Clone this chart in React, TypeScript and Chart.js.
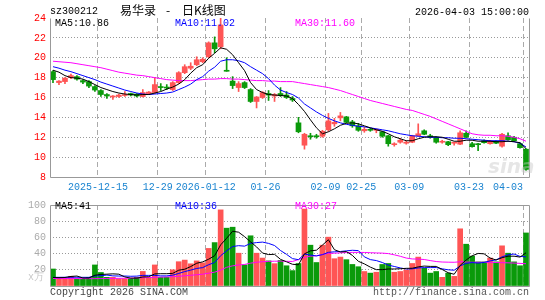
import React, { useEffect, useRef } from 'react';
import { Chart, registerables } from 'chart.js';

Chart.register(...registerables);

// ---------- data ----------
const dates = [
  '2025-12-03','2025-12-04','2025-12-05','2025-12-08','2025-12-09','2025-12-10','2025-12-11','2025-12-12',
  '2025-12-15','2025-12-16','2025-12-17','2025-12-18','2025-12-19','2025-12-22','2025-12-23','2025-12-24',
  '2025-12-25','2025-12-26','2025-12-29','2025-12-30','2025-12-31','2026-01-05','2026-01-06','2026-01-07',
  '2026-01-08','2026-01-09','2026-01-12','2026-01-13','2026-01-14','2026-01-15','2026-01-16','2026-01-19',
  '2026-01-20','2026-01-21','2026-01-22','2026-01-23','2026-01-26','2026-01-27','2026-01-28','2026-01-29',
  '2026-01-30','2026-02-02','2026-02-03','2026-02-04','2026-02-05','2026-02-06','2026-02-09','2026-02-10',
  '2026-02-11','2026-02-12','2026-02-13','2026-02-24','2026-02-25','2026-02-26','2026-02-27','2026-03-02',
  '2026-03-03','2026-03-04','2026-03-05','2026-03-06','2026-03-09','2026-03-10','2026-03-11','2026-03-12',
  '2026-03-13','2026-03-16','2026-03-17','2026-03-18','2026-03-19','2026-03-20','2026-03-23','2026-03-24',
  '2026-03-25','2026-03-26','2026-03-27','2026-03-30','2026-03-31','2026-04-01','2026-04-02','2026-04-03',
];

const opens = [
  18.6,17.5,17.6,18.0,18.1,17.7,17.6,17.1,16.7,16.3,16.05,16.1,16.2,16.4,16.35,16.1,16.4,16.5,17.1,17.05,
  16.8,17.5,18.5,18.95,19.3,19.6,20.1,21.5,21.1,18.7,17.65,17.0,17.5,16.8,15.6,16.0,16.4,16.15,16.4,16.25,
  15.9,13.45,11.2,12.15,12.15,12.1,12.75,13.35,13.95,14.05,13.55,13.15,12.65,12.8,12.7,12.55,12.15,11.25,11.5,11.4,
  11.5,12.15,12.65,12.15,12.0,11.5,11.55,11.4,11.3,12.4,11.35,11.35,11.65,11.35,11.6,11.1,12.15,12.0,11.35,10.8,
];
const closes = [
  17.8,17.65,17.95,18.2,17.85,17.55,17.15,16.75,16.3,16.15,16.15,16.25,16.3,16.25,16.15,16.5,16.55,17.3,17.0,16.95,
  17.5,18.5,19.1,19.15,19.8,19.85,21.5,20.9,23.3,18.64,17.2,17.4,17.0,15.6,16.05,16.5,16.25,16.3,16.2,16.0,
  15.75,12.55,12.3,12.05,12.05,12.6,13.65,13.5,14.15,13.5,13.15,12.7,12.8,12.7,12.75,12.1,11.35,11.35,11.7,11.5,
  12.15,12.35,12.3,12.0,11.5,11.6,11.25,11.45,12.45,12.0,11.05,11.25,11.45,11.6,11.4,12.3,11.75,11.65,10.95,8.76,
];
const lows = [
  17.5,17.3,17.4,17.9,17.75,17.4,17.0,16.6,16.1,15.9,15.8,16.0,16.1,16.15,16.05,16.05,16.3,16.4,16.7,16.8,
  16.7,17.4,18.4,18.8,19.2,19.5,20.0,20.5,20.9,18.64,16.9,16.6,16.9,15.5,14.95,15.9,15.7,15.6,16.1,15.9,
  15.6,12.45,10.8,11.8,11.9,12.0,12.6,13.1,13.65,13.45,13.0,12.6,12.5,12.6,12.45,12.0,11.1,11.1,11.4,11.3,
  11.45,12.1,12.25,11.9,11.4,11.4,11.15,11.2,11.25,11.95,11.0,10.65,11.4,11.3,11.35,11.0,11.7,11.6,10.9,8.65,
];
const highs = [
  18.7,17.7,18.0,18.35,18.2,17.8,17.7,17.2,16.8,16.4,16.2,16.35,16.6,16.45,16.4,16.8,16.6,18.0,17.4,17.3,
  17.6,18.6,19.3,19.5,20.1,20.0,21.6,22.1,24.0,20.0,18.1,17.6,17.6,16.9,16.1,16.6,16.7,16.4,17.0,16.6,
  16.1,14.0,12.4,12.4,12.3,12.7,14.4,13.9,14.5,14.1,13.7,13.4,13.0,12.9,12.85,12.6,12.2,11.45,11.9,11.65,
  12.2,13.35,12.75,12.3,12.05,11.7,11.6,11.5,12.65,12.65,11.5,11.4,11.75,11.7,11.65,12.4,12.45,12.1,11.45,10.85,
];

const ma5 = [
  18.75,18.55,18.2,18.0,17.95,17.85,17.6,17.3,17.0,16.8,16.6,16.45,16.35,16.3,16.25,16.3,16.3,16.45,16.6,16.85,
  17.05,17.35,17.8,18.45,19.0,19.3,19.95,20.45,21.0,20.85,20.3,19.5,18.7,17.5,16.8,16.5,16.3,16.25,16.2,16.15,
  15.9,15.3,14.6,13.75,12.95,12.35,12.55,12.85,13.2,13.4,13.45,13.35,13.15,12.95,12.75,12.6,12.35,12.05,11.85,11.65,
  11.65,11.85,12.0,12.05,12.05,12.0,11.8,11.6,11.6,11.7,11.7,11.6,11.6,11.6,11.55,11.55,11.6,11.55,11.45,10.86,
];
const ma10 = [
  19.1,18.95,18.75,18.6,18.4,18.2,18.0,17.8,17.55,17.35,17.15,16.95,16.75,16.6,16.45,16.35,16.3,16.35,16.4,16.45,
  16.55,16.8,17.05,17.35,17.8,18.1,18.65,19.05,19.65,19.8,19.8,19.7,19.5,19.1,18.75,18.4,17.9,17.25,16.75,16.5,
  16.3,15.95,15.35,14.95,14.55,14.2,13.9,13.65,13.45,13.3,13.2,13.1,13.05,12.95,12.85,12.75,12.65,12.5,12.35,12.25,
  12.15,12.1,12.05,12.0,12.0,11.95,11.95,11.9,11.9,11.85,11.8,11.75,11.7,11.65,11.65,11.65,11.6,11.55,11.4,11.02,
];
const ma30 = [
  19.65,19.6,19.55,19.5,19.4,19.3,19.2,19.1,19.0,18.85,18.7,18.55,18.45,18.35,18.25,18.2,18.1,18.0,17.9,17.8,
  17.75,17.7,17.7,17.7,17.75,17.8,17.85,17.85,17.9,17.9,17.85,17.85,17.8,17.75,17.7,17.7,17.65,17.65,17.6,17.6,
  17.6,17.5,17.4,17.3,17.2,17.1,17.0,16.85,16.7,16.5,16.3,16.1,15.9,15.7,15.55,15.4,15.25,15.1,14.95,14.8,
  14.7,14.5,14.3,14.1,13.85,13.6,13.35,13.1,12.85,12.6,12.35,12.25,12.2,12.2,12.15,12.15,12.1,12.0,11.85,11.6,
];

const volumes = [
  21,10.7,9,12,9,9,10.7,26,16.7,10.7,10.7,9,9,9,10.7,18,10.7,26,10.7,10.7,
  20,30,32,27.4,31,28.6,46.4,53.6,94,71.4,72.6,40.5,26,62,40.5,34.5,31,27.6,31.5,25,
  19,27.8,95,50.4,29,50.4,60.3,33.7,35.7,32.5,26.6,23.8,17.9,15.9,17,26.6,27.8,17,17.9,19.8,
  27.8,35.7,21.8,15.9,17.9,10.7,15.9,11.9,70.6,51.6,36.9,29.8,29.8,34.5,29.8,49.6,40.5,29.8,25,65.5,
];
const vma5 = [
  10.5,10.3,10.5,11.8,12.3,9.9,9.9,13.3,14.3,14.6,15.0,14.6,11.2,9.7,9.7,11.1,11.5,14.9,15.2,15.2,
  15.6,19.5,20.7,24.0,28.1,29.8,33.1,37.4,50.8,58.9,67.6,66.4,60.9,54.5,48.3,40.7,38.8,39.1,32.9,29.9,
  26.8,26.2,39.7,43.4,44.2,50.5,57.1,44.8,42.0,42.5,37.8,30.5,27.3,23.3,20.2,20.2,21.0,21.0,21.3,21.8,
  21.9,23.6,24.6,24.2,24.2,20.4,16.4,14.5,25.4,32.1,37.3,40.2,39.7,34.5,32.1,34.9,36.8,36.8,35.7,41,
];
const vma10 = [
  10.7,10.7,10.8,10.8,10.8,10.7,10.7,12.5,12.7,13.5,12.5,12.3,12.3,12.0,12.2,13.1,13.1,13.1,12.5,12.5,
  13.4,15.5,17.8,19.6,21.7,22.7,26.3,29.0,37.4,43.4,48.7,49.8,49.2,52.6,53.6,54.2,52.6,50.0,43.8,39.1,
  33.8,32.5,39.4,38.2,37.1,38.7,41.6,42.2,42.6,43.4,44.1,43.7,36.0,32.6,31.4,29.0,25.8,24.1,22.3,21.0,
  21.2,22.3,22.7,22.7,22.8,21.2,20.0,19.5,24.8,28.0,28.9,28.3,29.1,31.0,32.2,36.0,38.5,39.5,36.5,36,
];
const vma30 = [
  9.3,9.3,9.2,9.2,9.2,9.1,9.1,9.1,9.2,9.3,9.4,9.5,9.6,9.7,10.0,10.3,10.5,10.8,11.0,11.2,
  11.5,12.0,12.6,13.2,13.9,14.6,15.8,17.1,19.6,23.1,24.9,26.0,26.6,28.2,29.3,30.0,30.4,30.6,30.7,30.5,
  30.3,32.6,35.4,36.8,37.4,38.9,40.2,40.5,40.9,41.3,41.5,41.5,41.4,41.1,40.8,40.6,40.0,38.5,36.7,34.5,
  33.4,33.2,32.7,31.4,30.2,29.6,29.4,29.3,29.9,29.6,29.3,29.3,29.3,29.2,29.0,28.8,28.6,28.3,27.9,27.5,
];

const tickIndex = [8, 18, 26, 36, 46, 52, 60, 70, 79];
const tickText = ['2025-12-15', '12-29', '2026-01-12', '01-26', '02-09', '02-25', '03-09', '03-23', '04-03'];

const priceMin = 8;
const priceMax = 24;
const priceStep = 2;
const volMin = 0;
const volMax = 100;
const volStep = 20;

// ---------- styles ----------
const RED = '#ff5555';
const GREEN = '#0a9a0a';
const BLUE_TXT = '#1a84d0';
const MONO = "'Liberation Mono', 'DejaVu Sans Mono', monospace";
const CJK = "'Noto Sans CJK SC', sans-serif";
const W = 545;

const framePlugin = {
  id: 'frame',
  afterDraw(chart: any, _args: any, opts: any) {
    const { ctx, chartArea } = chart;
    const { left, right, top, bottom } = chartArea;
    ctx.save();
    ctx.strokeStyle = '#999';
    ctx.lineWidth = 1;
    ctx.setLineDash([]);
    ctx.beginPath();
    const l = Math.round(left) + 0.5;
    const r = Math.round(right) + 0.5;
    const b = Math.round(bottom) + 0.5;
    const t = Math.round(top) + 0.5;
    ctx.moveTo(l, t);
    ctx.lineTo(l, b);
    ctx.lineTo(r, b);
    ctx.lineTo(r, t);
    if (opts && opts.top) {
      ctx.lineTo(l, t);
    }
    ctx.stroke();
    ctx.restore();
  },
};

function xScale(showLabels: boolean, height: number) {
  return {
    type: 'category',
    offset: true,
    grid: {
      offset: true,
      drawTicks: false,
      lineWidth: 1,
      color: (c: any) => (tickIndex.includes(c.index) ? '#aaaaaa' : 'rgba(0,0,0,0)'),
    },
    border: { display: false, dash: [5, 3] },
    ticks: {
      display: showLabels,
      autoSkip: false,
      maxRotation: 0,
      minRotation: 0,
      align: 'inner',
      labelOffset: -3,
      padding: 4,
      color: BLUE_TXT,
      font: { family: MONO, size: 10 },
      callback: (_v: any, i: number) => {
        const k = tickIndex.indexOf(i);
        return k >= 0 ? tickText[k] : '';
      },
    },
    afterFit: (s: any) => {
      s.height = height;
    },
  };
}

function Txt(props: {
  x: number; y: number; color?: string; size?: number; family?: string;
  align?: 'left' | 'right'; children: React.ReactNode;
}) {
  const { x, y, color = '#000', size = 10, family = MONO, align = 'left', children } = props;
  const style: React.CSSProperties = {
    position: 'absolute',
    top: y - size * 0.45,
    fontFamily: family,
    fontSize: size,
    lineHeight: `${size}px`,
    color,
    whiteSpace: 'pre',
  };
  if (align === 'left') style.left = x;
  else style.right = W - x;
  return <div style={style}>{children}</div>;
}

export default function App() {
  const priceRef = useRef<HTMLCanvasElement>(null);
  const volRef = useRef<HTMLCanvasElement>(null);

  useEffect(() => {
    const up = closes.map((c, i) => c >= opens[i]);
    const candleColors = up.map((u) => (u ? RED : GREEN));

    const priceChart = new Chart(priceRef.current as HTMLCanvasElement, {
      type: 'bar',
      data: {
        labels: dates,
        datasets: [
          { type: 'line', data: ma5, borderColor: '#000', borderWidth: 1, pointRadius: 0, tension: 0, order: 0 } as any,
          { type: 'line', data: ma10, borderColor: '#0000ff', borderWidth: 1, pointRadius: 0, tension: 0, order: 0 } as any,
          { type: 'line', data: ma30, borderColor: '#ff00ff', borderWidth: 1, pointRadius: 0, tension: 0, order: 0 } as any,
          {
            type: 'bar',
            data: opens.map((o, i) => [o, closes[i]]),
            backgroundColor: candleColors,
            barThickness: 5,
            minBarLength: 1,
            grouped: false,
            order: 1,
          } as any,
          {
            type: 'bar',
            data: lows.map((l, i) => [l, highs[i]]),
            backgroundColor: candleColors,
            barThickness: 1,
            grouped: false,
            order: 2,
          } as any,
        ],
      },
      options: {
        animation: false,
        responsive: false,
        devicePixelRatio: 1,
        layout: { padding: { left: 0, top: 18, right: 16, bottom: 0 } },
        plugins: { legend: { display: false }, tooltip: { enabled: false }, frame: { top: false } } as any,
        scales: {
          x: xScale(true, 18) as any,
          y: {
            type: 'linear',
            min: priceMin,
            max: priceMax,
            ticks: {
              stepSize: priceStep,
              color: '#ff0000',
              font: { family: MONO, size: 10 },
              padding: 4,
            },
            grid: {
              drawTicks: false,
              color: (c: any) =>
                c.tick && (c.tick.value === priceMax || c.tick.value === priceMin) ? 'rgba(0,0,0,0)' : '#999',
            },
            border: { display: false, dash: [1, 2] },
            afterFit: (s: any) => {
              s.width = 50;
            },
          } as any,
        },
      },
      plugins: [framePlugin],
    });

    const volChart = new Chart(volRef.current as HTMLCanvasElement, {
      type: 'bar',
      data: {
        labels: dates,
        datasets: [
          { type: 'line', data: vma5, borderColor: '#000', borderWidth: 1, pointRadius: 0, tension: 0, order: 0 } as any,
          { type: 'line', data: vma10, borderColor: '#0000ff', borderWidth: 1, pointRadius: 0, tension: 0, order: 0 } as any,
          { type: 'line', data: vma30, borderColor: '#ff00ff', borderWidth: 1, pointRadius: 0, tension: 0, order: 0 } as any,
          {
            type: 'bar',
            data: volumes,
            backgroundColor: candleColors,
            barThickness: 5,
            grouped: false,
            order: 1,
          } as any,
        ],
      },
      options: {
        animation: false,
        responsive: false,
        devicePixelRatio: 1,
        layout: { padding: { left: 0, top: 6, right: 16, bottom: 0 } },
        plugins: { legend: { display: false }, tooltip: { enabled: false }, frame: { top: true } } as any,
        scales: {
          x: xScale(false, 14) as any,
          y: {
            type: 'linear',
            min: volMin,
            max: volMax,
            ticks: {
              stepSize: volStep,
              color: '#aaaaaa',
              font: { family: MONO, size: 10 },
              padding: 4,
              callback: (v: any) => (v === 0 ? '' : String(v)),
            },
            grid: {
              drawTicks: false,
              color: (c: any) =>
                c.tick && (c.tick.value === volMax || c.tick.value === volMin) ? 'rgba(0,0,0,0)' : '#999',
            },
            border: { display: false, dash: [1, 2] },
            afterFit: (s: any) => {
              s.width = 50;
            },
          } as any,
        },
      },
      plugins: [framePlugin],
    });

    return () => {
      priceChart.destroy();
      volChart.destroy();
    };
  }, []);

  return (
    <div style={{ position: 'absolute', left: 0, top: 0, width: W, height: 300, background: '#fff', overflow: 'hidden' }}>
      <canvas ref={priceRef} width={W} height={195} style={{ position: 'absolute', left: 0, top: 0 }} />
      <canvas ref={volRef} width={W} height={105} style={{ position: 'absolute', left: 0, top: 195 }} />

      <Txt x={50} y={11}>sz300212</Txt>
      <Txt x={120} y={9.5} size={12} family={CJK}>易华录</Txt>
      <Txt x={166} y={9.5} size={12} family={CJK}>-</Txt>
      <Txt x={182} y={9.5} size={12} family={CJK}>日K线图</Txt>
      <Txt x={529} y={12} align="right">2026-04-03 15:00:00</Txt>

      <Txt x={55} y={23.5}>MA5:10.86</Txt>
      <Txt x={175} y={23.5} color="#0000ff">MA10:11.02</Txt>
      <Txt x={295} y={23.5} color="#ff00ff">MA30:11.60</Txt>

      <Txt x={55} y={206}>MA5:41</Txt>
      <Txt x={175} y={206} color="#0000ff">MA10:36</Txt>
      <Txt x={295} y={206} color="#ff00ff">MA30:27</Txt>

      <Txt x={28} y={277} color="#c8c8c8">x万</Txt>

      <div style={{ position: 'absolute', left: 488, top: 156, fontFamily: "'DejaVu Sans', sans-serif", fontWeight: 'bold', fontStyle: 'italic', fontSize: 20, lineHeight: '20px', color: 'rgba(200,200,200,0.45)' }}>sina</div>

      <Txt x={50} y={292} color="#444">Copyright 2026 SINA.COM</Txt>
      <Txt x={529} y={292} color="#555" align="right">http://finance.sina.com.cn</Txt>
    </div>
  );
}
